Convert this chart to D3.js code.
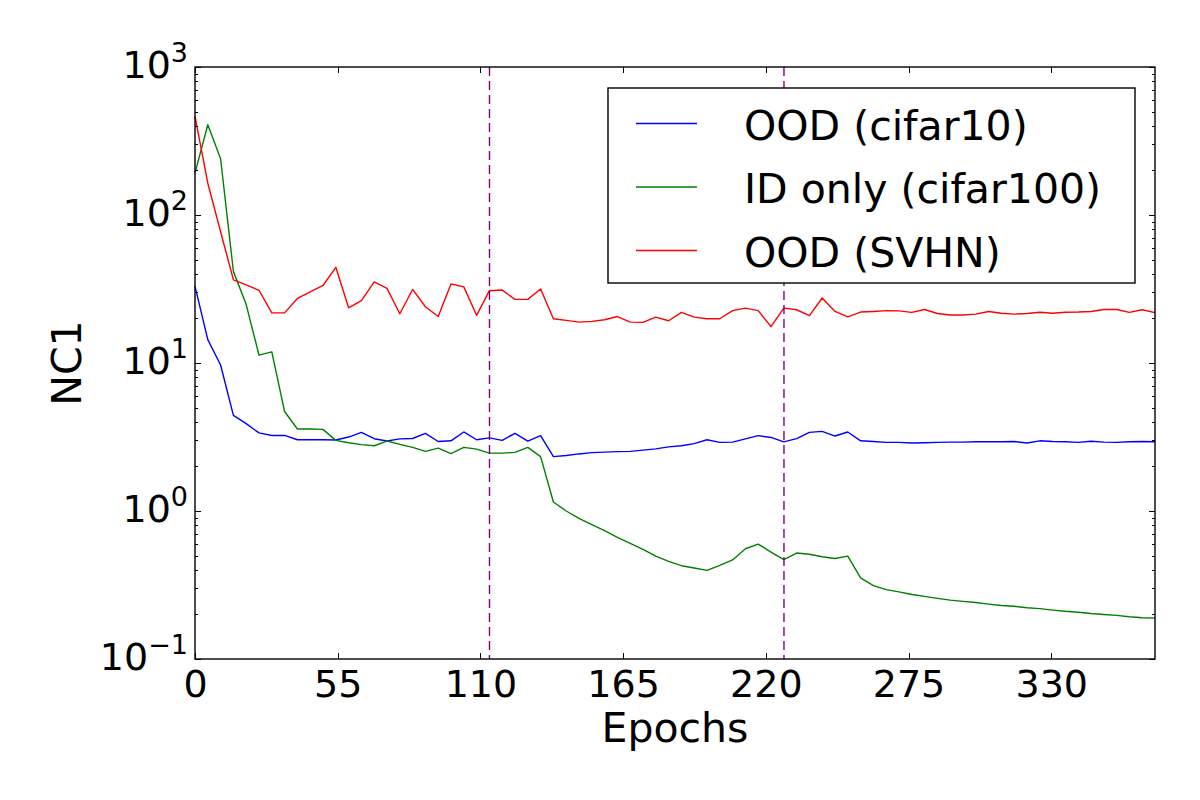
<!DOCTYPE html>
<html>
<head>
<meta charset="utf-8">
<style>
body {
  margin: 0;
  background: #fff;
  font-family: "DejaVu Sans", sans-serif;
}
.axis path,
.axis line {
  fill: none;
  stroke: #000;
  shape-rendering: crispEdges;
}
</style>
</head>
<body>
<div id="chart"></div>
<script src="https://d3js.org/d3.v7.min.js"></script>
<script>

// NC1 per evaluation point
var ood_cifar10 = [32.9, 14.4, 9.7, 4.43, 3.89, 3.37, 3.24, 3.24, 3.03, 3.03,
  3.03, 3.02, 3.16, 3.40, 3.08, 2.97, 3.07, 3.09, 3.35, 2.95,
  2.98, 3.42, 3.03, 3.12, 3.00, 3.35, 2.97, 3.23, 2.33, 2.37,
  2.43, 2.48, 2.50, 2.52, 2.53, 2.58, 2.63, 2.71, 2.76, 2.85,
  3.03, 2.91, 2.92, 3.07, 3.23, 3.14, 2.93, 3.08, 3.40, 3.45,
  3.21, 3.42, 2.98, 2.95, 2.91, 2.91, 2.88, 2.89, 2.91, 2.92,
  2.92, 2.94, 2.94, 2.94, 2.95, 2.88, 2.98, 2.95, 2.94, 2.91,
  2.96, 2.92, 2.91, 2.94, 2.95, 2.94];

var id_cifar100 = [192, 407, 240, 41.6, 24.8, 11.3, 11.9, 4.7, 3.58, 3.58,
  3.56, 3.00, 2.89, 2.81, 2.76, 2.97, 2.82, 2.69, 2.53, 2.66,
  2.44, 2.69, 2.62, 2.46, 2.46, 2.49, 2.69, 2.33, 1.15, 1.00,
  0.891, 0.808, 0.736, 0.663, 0.604, 0.550, 0.496, 0.457, 0.427, 0.412,
  0.397, 0.429, 0.467, 0.556, 0.598, 0.528, 0.469, 0.520, 0.510, 0.491,
  0.478, 0.496, 0.353, 0.313, 0.294, 0.284, 0.273, 0.265, 0.257, 0.250,
  0.245, 0.241, 0.235, 0.230, 0.227, 0.222, 0.219, 0.214, 0.210, 0.207,
  0.203, 0.200, 0.197, 0.193, 0.190, 0.189];

var ood_svhn = [464, 164, 77, 36.5, 33.7, 31.0, 21.8, 21.8, 27.3, 30.2,
  33.4, 44.3, 23.6, 26.4, 35.3, 31.9, 21.5, 31.4, 24.0, 20.6,
  34.2, 32.7, 21.0, 30.8, 31.1, 26.9, 26.9, 31.6, 19.9, 19.4,
  18.9, 19.1, 19.6, 20.6, 18.9, 18.8, 20.4, 19.3, 22.0, 20.4,
  19.9, 19.9, 22.6, 23.5, 22.6, 17.6, 23.5, 22.9, 20.9, 27.5,
  22.3, 20.5, 22.1, 22.3, 22.6, 22.5, 22.0, 23.0, 21.6, 21.1,
  21.1, 21.4, 22.3, 21.7, 21.4, 21.6, 22.0, 21.7, 22.0, 22.1,
  22.3, 23.0, 23.0, 22.0, 22.9, 21.9];

var seriesNames = ["OOD (cifar10)", "ID only (cifar100)", "OOD (SVHN)"];
var seriesColors = ["#0000ff", "#008000", "#ff0000"];
var xTickValues = [0, 55, 110, 165, 220, 275, 330];
var yTickPowers = [-1, 0, 1, 2, 3];
var phaseEpochs = [113.5, 227];
var lastEpoch = 370;

var width = 1200,
    height = 800,
    margin = {top: 67, right: 45, bottom: 141, left: 195},
    innerW = width - margin.left - margin.right,
    innerH = height - margin.top - margin.bottom,
    fontFamily = '"DejaVu Sans", sans-serif',
    tickFont = 38,
    labelFont = 41;

var svg = d3.select('#chart')
  .append("svg")
  .attr("width", width)
  .attr("height", height)
  .attr("font-family", fontFamily);

var g = svg.append("g")
  .attr("transform", `translate(${margin.left},${margin.top})`);

// evaluation points are evenly spaced over the run
var epochs = ood_cifar10.map((d, i) => i * lastEpoch / (ood_cifar10.length - 1));

var xScale = d3.scaleLinear().domain([0, lastEpoch]).range([0, innerW]);
var yScale = d3.scaleLog().domain([0.1, 1000]).range([innerH, 0]);

var series = [ood_cifar10, id_cifar100, ood_svhn];

var line = d3.line()
  .x((d, i) => xScale(epochs[i]))
  .y(d => yScale(d));

g.append("g").attr("class", "lines")
  .selectAll("path")
  .data(series)
  .enter().append("path")
  .attr("d", d => line(d))
  .attr("fill", "none")
  .attr("stroke", (d, i) => seriesColors[i])
  .attr("stroke-width", 1.4)
  .attr("stroke-linejoin", "round");

/* phase boundaries */
g.selectAll(".phase")
  .data(phaseEpochs)
  .enter().append("line")
  .attr("class", "phase")
  .attr("x1", d => xScale(d))
  .attr("x2", d => xScale(d))
  .attr("y1", 0)
  .attr("y2", innerH)
  .attr("stroke", "#800080")
  .attr("stroke-width", 1.4)
  .attr("stroke-dasharray", "9,5");

/* x axes, ticks inside, labels only at the bottom */
var xAxis = d3.axisBottom(xScale).tickValues(xTickValues)
  .tickSizeInner(-6).tickSizeOuter(0).tickPadding(12);
var xb = g.append("g").attr("class", "x axis")
  .attr("transform", `translate(0,${innerH})`)
  .call(xAxis)
  .attr("font-family", fontFamily)
  .attr("font-size", tickFont);
xb.selectAll("text")
  .attr("fill", "#000")
  .attr("y", 38)
  .attr("dy", 0);
xb.select(".domain").remove();

g.append("g").attr("class", "x axis")
  .call(d3.axisTop(xScale).tickValues(xTickValues).tickSizeInner(-6).tickSizeOuter(0).tickFormat(""))
  .select(".domain").remove();

/* y axes: majors at decades, minors in between */
var allY = yScale.ticks();
var majorY = allY.filter(v => Math.abs(Math.log10(v) - Math.round(Math.log10(v))) < 1e-9);
var minorY = allY.filter(v => majorY.indexOf(v) < 0);

[[d3.axisLeft, 0], [d3.axisRight, innerW]].forEach(function (s) {
  var ag = g.append("g").attr("class", "y axis").attr("transform", `translate(${s[1]},0)`);
  ag.call(s[0](yScale).tickValues(majorY).tickSizeInner(-6).tickSizeOuter(0).tickFormat(""));
  ag.select(".domain").remove();
  var mg = g.append("g").attr("class", "y axis").attr("transform", `translate(${s[1]},0)`);
  mg.call(s[0](yScale).tickValues(minorY).tickSizeInner(-3).tickSizeOuter(0).tickFormat(""));
  mg.select(".domain").remove();
});

/* y tick labels as 10 with a superscript power */
var yl = g.append("g").attr("class", "ylabels")
  .selectAll("text")
  .data(yTickPowers)
  .enter().append("text")
  .attr("x", -7)
  .attr("y", d => yScale(Math.pow(10, d)) + 11)
  .attr("text-anchor", "end")
  .attr("font-size", tickFont)
  .attr("fill", "#000");
yl.append("tspan").text("10");
yl.append("tspan")
  .attr("font-size", 27)
  .attr("dy", -16)
  .text(d => d < 0 ? "\u2212" + Math.abs(d) : String(d));

/* frame */
g.append("rect")
  .attr("width", innerW)
  .attr("height", innerH)
  .attr("fill", "none")
  .attr("stroke", "#000")
  .attr("stroke-width", 1.4);

/* axis titles */
svg.append("text")
  .attr("x", margin.left + innerW / 2)
  .attr("y", 742)
  .attr("text-anchor", "middle")
  .attr("font-size", labelFont)
  .text("Epochs");

svg.append("text")
  .attr("transform", `translate(81,${margin.top + innerH / 2}) rotate(-90)`)
  .attr("text-anchor", "middle")
  .attr("font-size", labelFont)
  .text("NC1");

/* legend */
var legend = svg.append("g").attr("class", "legend")
  .attr("transform", "translate(608,88)");
legend.append("rect")
  .attr("width", 527)
  .attr("height", 195)
  .attr("fill", "#fff")
  .attr("stroke", "#000")
  .attr("stroke-width", 1.4);

var rows = legend.selectAll(".row")
  .data(seriesNames)
  .enter().append("g")
  .attr("class", "row")
  .attr("transform", (d, i) => `translate(0,${35.5 + i * 63.5})`);
rows.append("line")
  .attr("x1", 28).attr("x2", 89)
  .attr("stroke", (d, i) => seriesColors[i])
  .attr("stroke-width", 1.4);
rows.append("text")
  .attr("x", 136)
  .attr("y", 16)
  .attr("font-size", labelFont)
  .text(d => d);

</script>
</body>
</html>
